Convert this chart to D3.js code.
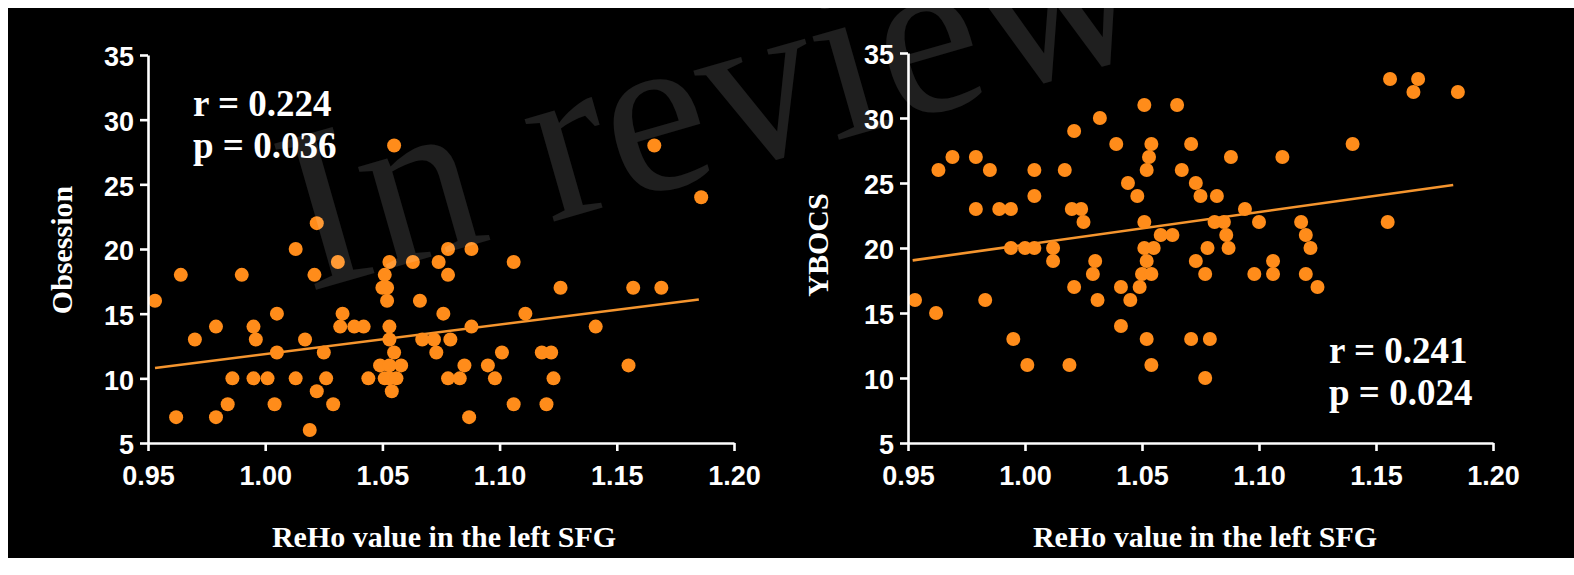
<!DOCTYPE html>
<html>
<head>
<meta charset="utf-8">
<script src="https://cdn.jsdelivr.net/npm/d3@7"></script>
<style>
  html, body { margin: 0; padding: 0; background: #ffffff; }
  svg { display: block; }
</style>
</head>
<body>
<svg id="chart" width="1574" height="575"></svg>
<script>
// ---------- data ----------
const xTicks = [0.95, 1.00, 1.05, 1.10, 1.15, 1.20];
const yTicks = [5, 10, 15, 20, 25, 30, 35];

const leftReho = [1.022,1.013,1.031,0.964,0.990,1.021,0.953,1.005,1.033,0.979,0.995,1.032,1.038,1.042,0.970,0.996,1.017,1.005,1.025,0.986,0.995,1.001,1.013,1.026,1.044,1.022,0.984,1.004,1.029,0.962,0.979,1.019,1.078,1.088,1.053,1.063,1.074,1.106,1.051,1.078,1.050,1.052,1.052,1.126,1.066,1.076,1.111,1.053,1.088,1.141,1.053,1.067,1.072,1.079,1.055,1.073,1.101,1.118,1.122,1.049,1.053,1.058,1.085,1.095,1.051,1.053,1.056,1.078,1.083,1.098,1.123,1.054,1.106,1.120,1.087,1.157,1.169,1.155,1.055,1.166,1.186];
const leftObsession = [22,20,19,18,18,18,16,15,15,14,14,14,14,14,13,13,13,12,12,10,10,10,10,10,10,9,8,8,8,7,7,6,20,20,19,19,19,19,18,18,17,17,16,17,16,15,15,14,14,14,13,13,13,13,12,12,12,12,12,11,11,11,11,11,10,10,10,10,10,10,10,9,8,8,7,17,17,11,28,28,24];

const rightReho = [1.051,1.032,1.021,1.039,0.969,0.979,0.963,0.985,1.004,1.017,1.044,1.004,1.048,0.979,0.989,0.994,1.020,1.024,1.025,1.051,0.994,1.000,1.004,1.012,1.012,1.030,1.029,1.021,1.041,1.049,0.953,0.983,1.031,1.045,0.962,1.041,0.995,1.001,1.019,1.065,1.054,1.071,1.053,1.088,1.110,1.052,1.067,1.073,1.075,1.082,1.094,1.081,1.085,1.100,1.118,1.058,1.063,1.086,1.120,1.051,1.055,1.078,1.087,1.122,1.052,1.073,1.106,1.050,1.054,1.077,1.098,1.106,1.120,1.125,1.052,1.071,1.079,1.054,1.077,1.156,1.168,1.166,1.185,1.140,1.155];
const rightYbocs = [31,30,29,28,27,27,26,26,26,26,25,24,24,23,23,23,23,23,22,22,20,20,20,20,19,19,18,17,17,17,16,16,16,16,15,14,13,11,11,31,28,28,27,27,27,26,26,25,24,24,23,22,22,22,22,21,21,21,21,20,20,20,20,20,19,19,19,18,18,18,18,18,18,17,13,13,13,11,10,33,33,32,32,28,22];

// fitted regression line end points
const leftFitX = [0.953, 1.185];
const leftFitY = [10.8, 16.1];
const rightFitX = [0.952, 1.183];
const rightFitY = [19.05, 24.85];

const xTitle = "ReHo value in the left SFG";
const leftYTitle = "Obsession";
const rightYTitle = "YBOCS";
const leftStats = ["r = 0.224", "p = 0.036"];
const rightStats = ["r = 0.241", "p = 0.024"];
const watermark = "In review";

// ---------- drawing ----------
const svg = d3.select("#chart");
const W = 1574, H = 575;
const ORANGE = "#ff8c1a";
const LINE = "#f5952e";

svg.append("rect").attr("x", 0).attr("y", 0).attr("width", W).attr("height", H).attr("fill", "#ffffff");
svg.append("rect").attr("x", 8).attr("y", 8).attr("width", W - 8).attr("height", 550).attr("fill", "#000000");

function panel(cfg) {
  const x = d3.scaleLinear().domain([0.95, 1.20]).range(cfg.xr);
  const y = d3.scaleLinear().domain([5, 35]).range(cfg.yr);
  const g = svg.append("g");

  // regression line
  g.append("line")
    .attr("x1", x(cfg.fitX[0])).attr("y1", y(cfg.fitY[0]))
    .attr("x2", x(cfg.fitX[1])).attr("y2", y(cfg.fitY[1]))
    .attr("stroke", LINE).attr("stroke-width", 2.6);

  // points
  g.selectAll("circle").data(cfg.xs.map((v, i) => [v, cfg.ys[i]])).join("circle")
    .attr("cx", d => x(d[0])).attr("cy", d => y(d[1]))
    .attr("r", 7).attr("fill", ORANGE);

  // axes
  const xAxis = d3.axisBottom(x).tickValues(xTicks).tickFormat(d3.format(".2f")).tickSize(8).tickSizeOuter(0).tickPadding(12);
  const yAxis = d3.axisLeft(y).tickValues(yTicks).tickFormat(d3.format("d")).tickSize(8).tickSizeOuter(0).tickPadding(6);
  const gx = g.append("g").attr("transform", `translate(0,${cfg.yr[0]})`).call(xAxis);
  const gy = g.append("g").attr("transform", `translate(${cfg.xr[0]},0)`).call(yAxis);
  [gx, gy].forEach(a => {
    a.select(".domain").attr("stroke", "#fff").attr("stroke-width", 2.6);
    a.selectAll(".tick line").attr("stroke", "#fff").attr("stroke-width", 2.6);
    a.selectAll(".tick text").attr("fill", "#fff")
      .style("font-family", "'Liberation Sans', Arial, sans-serif")
      .style("font-weight", "bold").style("font-size", "27px");
  });
  gx.selectAll(".tick text").attr("dy", "0.8em");
  gy.selectAll(".tick text").attr("dy", "0.4em");

  // axis titles
  g.append("text").attr("x", cfg.xTitleX).attr("y", 547)
    .attr("text-anchor", "middle").attr("fill", "#fff")
    .style("font-family", "'Liberation Serif', 'Times New Roman', serif")
    .style("font-weight", "bold").style("font-size", "30px")
    .text(xTitle);
  g.append("text")
    .attr("transform", `translate(${cfg.yTitleX},${cfg.yTitleY}) rotate(-90)`)
    .attr("text-anchor", "middle").attr("fill", "#fff")
    .style("font-family", "'Liberation Serif', 'Times New Roman', serif")
    .style("font-weight", "bold").style("font-size", "30px")
    .text(cfg.yTitle);

  // statistics
  cfg.stats.forEach((s, i) => {
    g.append("text").attr("x", cfg.statX).attr("y", cfg.statY + i * 42)
      .attr("fill", "#fff")
      .style("font-family", "'Liberation Serif', 'Times New Roman', serif")
      .style("font-weight", "bold").style("font-size", "37px")
      .text(s);
  });
}

panel({ xr: [148, 734], yr: [443, 55], xs: leftReho, ys: leftObsession,
        fitX: leftFitX, fitY: leftFitY, xTitleX: 444, yTitleX: 72, yTitleY: 250,
        yTitle: leftYTitle, stats: leftStats, statX: 193, statY: 116 });
panel({ xr: [908, 1493], yr: [443, 53], xs: rightReho, ys: rightYbocs,
        fitX: rightFitX, fitY: rightFitY, xTitleX: 1205, yTitleX: 828, yTitleY: 245,
        yTitle: rightYTitle, stats: rightStats, statX: 1329, statY: 363 });

// watermark
svg.append("text")
  .attr("transform", "translate(308,292) rotate(-16)")
  .attr("fill", "#ffffff").attr("fill-opacity", 0.12)
  .style("font-family", "'Liberation Serif', 'Times New Roman', serif")
  .style("font-size", "232px")
  .text(watermark);
</script>
</body>
</html>
